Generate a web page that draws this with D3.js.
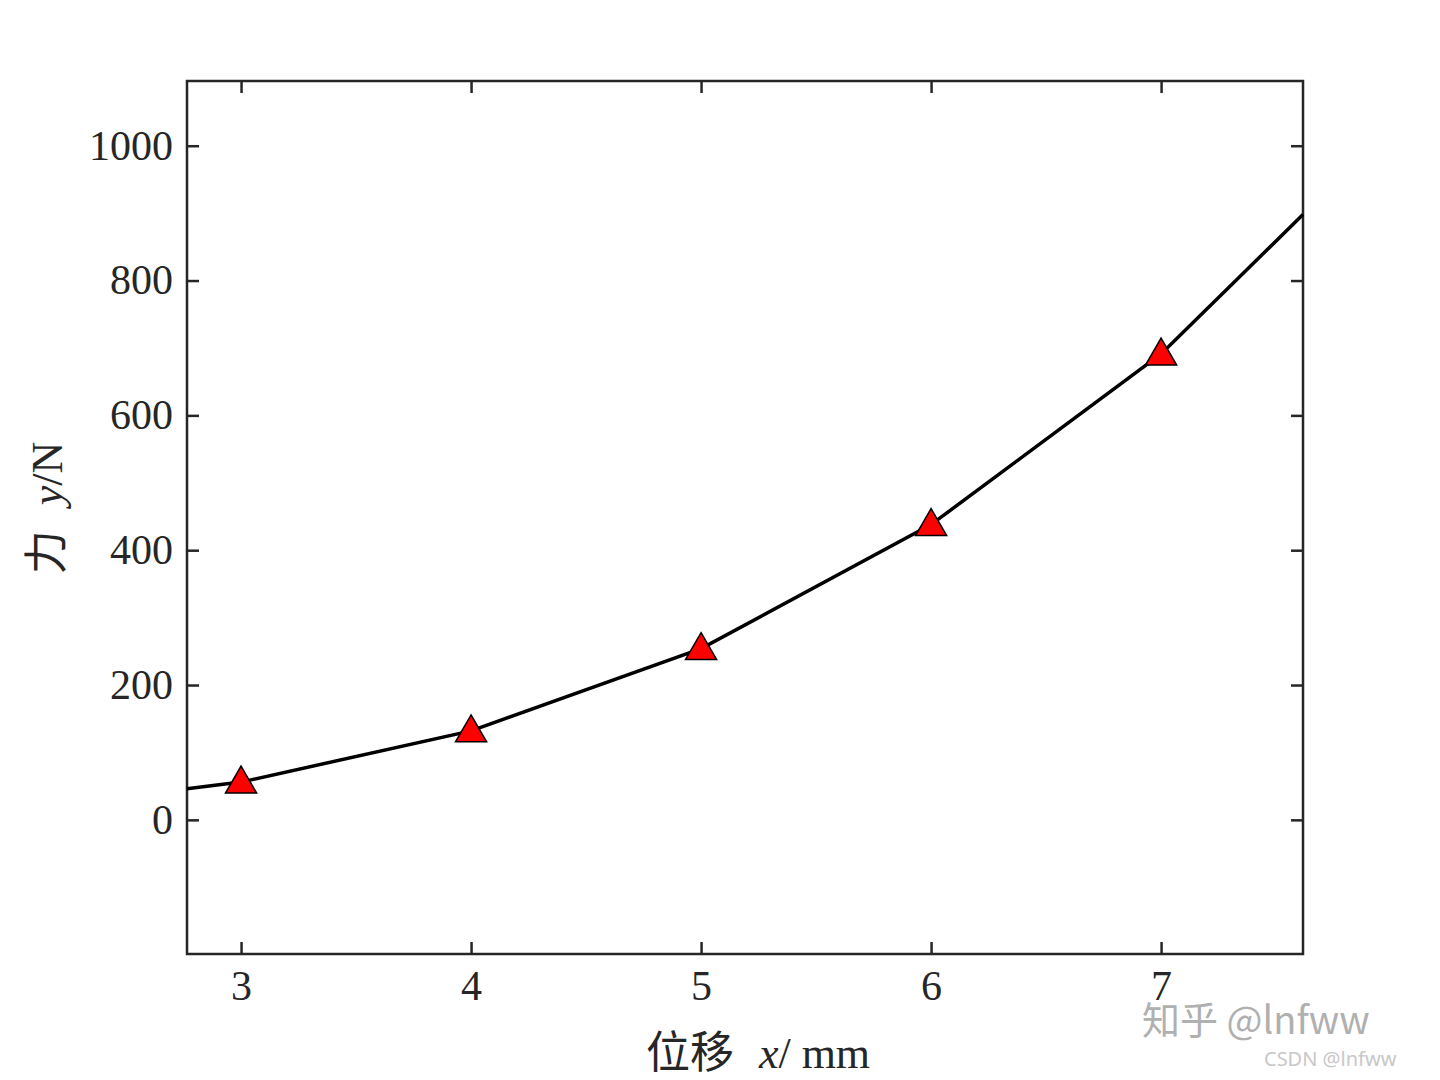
<!DOCTYPE html>
<html><head><meta charset="utf-8">
<script src="https://cdn.jsdelivr.net/npm/d3@7"></script>
<style>body{margin:0;background:#fff}</style></head>
<body><svg id="c" width="1440" height="1080"></svg>
<script>
const xVals=[3,4,5,6,7];
const yVals=[56,132,254,438,691];
const lineX=[2.765,3,4,5,6,7,7.617];
const lineY=[46,56,132,254,438,691,898];
const xTicks=[3,4,5,6,7];
const yTicks=[0,200,400,600,800,1000];

const svg=d3.select("#c");
const L=187,R=1303,T=81,B=954;
const x=d3.scaleLinear().domain([2.765,7.617]).range([L,R]);
const y=d3.scaleLinear().domain([-199,1096]).range([B,T]);
const col="#262626",font="'Liberation Serif','Times New Roman',serif";

const g=svg.append("g");
g.append("g").attr("transform",`translate(0,${B})`).call(d3.axisBottom(x).tickValues(xTicks).tickSize(-12).tickPadding(16).tickFormat(d3.format("d")));
g.append("g").attr("transform",`translate(0,${T})`).call(d3.axisTop(x).tickValues(xTicks).tickSize(-12).tickFormat(""));
g.append("g").attr("transform",`translate(${L},0)`).call(d3.axisLeft(y).tickValues(yTicks).tickSize(-12).tickPadding(14).tickFormat(d3.format("d")));
g.append("g").attr("transform",`translate(${R},0)`).call(d3.axisRight(y).tickValues(yTicks).tickSize(-12).tickFormat(""));
g.selectAll(".domain").remove();
g.selectAll(".tick line").attr("stroke",col).attr("stroke-width",2.5);
g.selectAll(".tick text").attr("fill",col).style("font-family",font).style("font-size","42px");
svg.append("rect").attr("x",L).attr("y",T).attr("width",R-L).attr("height",B-T).attr("fill","none").attr("stroke",col).attr("stroke-width",2.5);

const pts=lineX.map((v,i)=>[v,lineY[i]]);
svg.append("path").attr("d",d3.line().x(d=>x(d[0])).y(d=>y(d[1]))(pts)).attr("fill","none").attr("stroke","#000").attr("stroke-width",3.5);
svg.selectAll(".m").data(xVals).enter().append("path")
 .attr("d",d3.symbol().type(d3.symbolTriangle).size(420))
 .attr("transform",(d,i)=>`translate(${x(d)},${y(yVals[i])+2})`)
 .attr("fill","#ff0000").attr("stroke","#000").attr("stroke-width",1.5);

svg.append("text").attr("x",758).attr("y",1068).attr("text-anchor","middle").attr("fill",col)
 .style("font-family",font).style("font-size","44px")
 .html("<tspan style=\"font-family:'Noto Sans CJK SC'\">位移</tspan>  <tspan dx='14' font-style='italic'>x</tspan>/ mm");
svg.append("text").attr("transform","translate(62,508) rotate(-90)").attr("text-anchor","middle").attr("fill",col)
 .style("font-family",font).style("font-size","44px")
 .html("<tspan style=\"font-family:'Noto Sans CJK SC'\">力</tspan> <tspan dx='14' font-style='italic'>y</tspan>/N");

svg.append("text").attr("x",1142).attr("y",1034).attr("fill","#b0b0b0").style("font-family","'Noto Sans CJK SC'").style("font-size","38px").text("知乎 @lnfww");
svg.append("text").attr("x",1264).attr("y",1066).attr("fill","#c8c8c8").style("font-family","'Noto Sans'").style("font-size","20px").text("CSDN @lnfww");
</script></body></html>
